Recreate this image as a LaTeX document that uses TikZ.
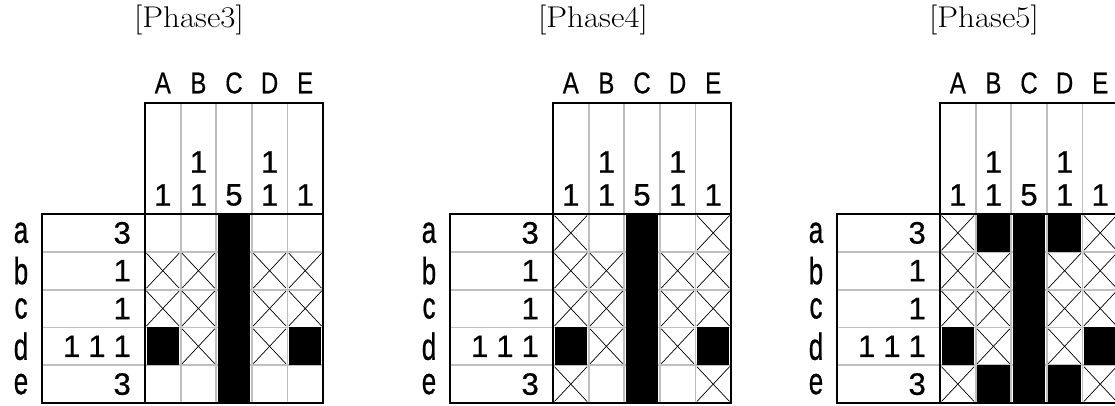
\documentclass[tikz,border=0pt]{standalone}
\usepackage{fontspec}
\newfontfamily\numfont[FakeBold=0.6]{Liberation Sans}
\newfontfamily\lblfont[FakeBold=0.8]{Liberation Sans}
\tikzset{
  outline/.style={line width=2.2pt, black},
  gridline/.style={line width=1.8pt, black!25},
  crossline/.style={line width=0.7pt, black},
  num/.style={font=\numfont\fontsize{31}{31}\selectfont, inner sep=0pt},
  colletter/.style={font=\numfont\fontsize{30}{30}\selectfont, inner sep=0pt, xscale=0.8},
  rowletter/.style={font=\lblfont\fontsize{26}{26}\selectfont, inner sep=0pt, yscale=1.45},
  title/.style={font=\fontsize{30}{30}\selectfont, inner sep=0pt, xscale=1.1},
}
% cell helpers (inside a shifted scope)
\newcommand\cellfill[2]{\fill[black] ({103+35.6*#1+1.6},{214+37.8*#2}) rectangle ({103+35.6*(#1+1)-1.6},{214+37.8*(#2+1)});}
\newcommand\cellcross[2]{\draw[crossline] ({103+35.6*#1+1.5},{214+37.8*#2+1.5}) -- ({103+35.6*(#1+1)-1.5},{214+37.8*(#2+1)-1.5});
  \draw[crossline] ({103+35.6*#1+1.5},{214+37.8*(#2+1)-1.5}) -- ({103+35.6*(#1+1)-1.5},{214+37.8*#2+1.5});}
\newcommand\panelbase[1]{%
  \foreach \i in {1,...,4} {\draw[gridline] ({103+35.6*\i},103) -- ({103+35.6*\i},403);}
  \foreach \j in {1,...,4} {\draw[gridline] (0,{214+37.8*\j}) -- (281,{214+37.8*\j});}
  \foreach \L [count=\c from 0] in {A,B,C,D,E}
    {\node[colletter] (#1-col\L) at ({103+35.6*(\c+0.5)},83) {\L};}
  \foreach \v [count=\c from 0] in {1,1,5,1,1}
    {\node[num] (#1-cb\c) at ({103+35.6*(\c+0.5)},195) {\v};}
  \node[num] (#1-ctB) at ({103+35.6*1.5},162) {1};
  \node[num] (#1-ctD) at ({103+35.6*3.5},162) {1};
  \foreach \l [count=\r from 0] in {a,b,c,d,e}
    {\node[rowletter] (#1-row\l) at (-21,{214+37.8*(\r+0.5)}) {\l};}
  \node[num, anchor=east] (#1-rc0) at (89,{214+37.8*0.5}) {3};
  \node[num, anchor=east] (#1-rc1) at (89,{214+37.8*1.5}) {1};
  \node[num, anchor=east] (#1-rc2) at (89,{214+37.8*2.5}) {1};
  \node[num, anchor=east] (#1-rc3) at (89,{214+37.8*3.5}) {1\hspace{8pt}1\hspace{8pt}1};
  \node[num, anchor=east] (#1-rc4) at (89,{214+37.8*4.5}) {3};
}
\newcommand\paneloutline{%
  \draw[outline] (103,103) rectangle (281,214);
  \draw[outline] (0,214) rectangle (281,403);
  \draw[outline] (103,214) -- (103,403);
}
\newcommand\commonmarks{%
  \foreach \r in {0,...,4} {\cellfill{2}{\r}}
  \cellfill{0}{3}\cellfill{4}{3}
  \foreach \r in {1,2} {\cellcross{0}{\r}\cellcross{1}{\r}\cellcross{3}{\r}\cellcross{4}{\r}}
  \cellcross{1}{3}\cellcross{3}{3}
}
\begin{document}
\begin{tikzpicture}[x=1pt,y=-1pt]
\useasboundingbox (0,0) rectangle (1115,405);
\fill[white] (0,0) rectangle (1115,405);
\node[title] (t3) at (189,20) {[Phase3]};
\node[title] (t4) at (593,20) {[Phase4]};
\node[title] (t5) at (984,20) {[Phase5]};
\begin{scope}[shift={(42,0)}]
  \panelbase{p3}
  \commonmarks
  \paneloutline
\end{scope}
\begin{scope}[shift={(450,0)}]
  \panelbase{p4}
  \commonmarks
  \cellcross{0}{0}\cellcross{4}{0}\cellcross{0}{4}\cellcross{4}{4}
  \paneloutline
\end{scope}
\begin{scope}[shift={(837,0)}]
  \panelbase{p5}
  \commonmarks
  \cellcross{0}{0}\cellcross{4}{0}\cellcross{0}{4}\cellcross{4}{4}
  \cellfill{1}{0}\cellfill{3}{0}\cellfill{1}{4}\cellfill{3}{4}
  \paneloutline
\end{scope}
\end{tikzpicture}
\end{document}
